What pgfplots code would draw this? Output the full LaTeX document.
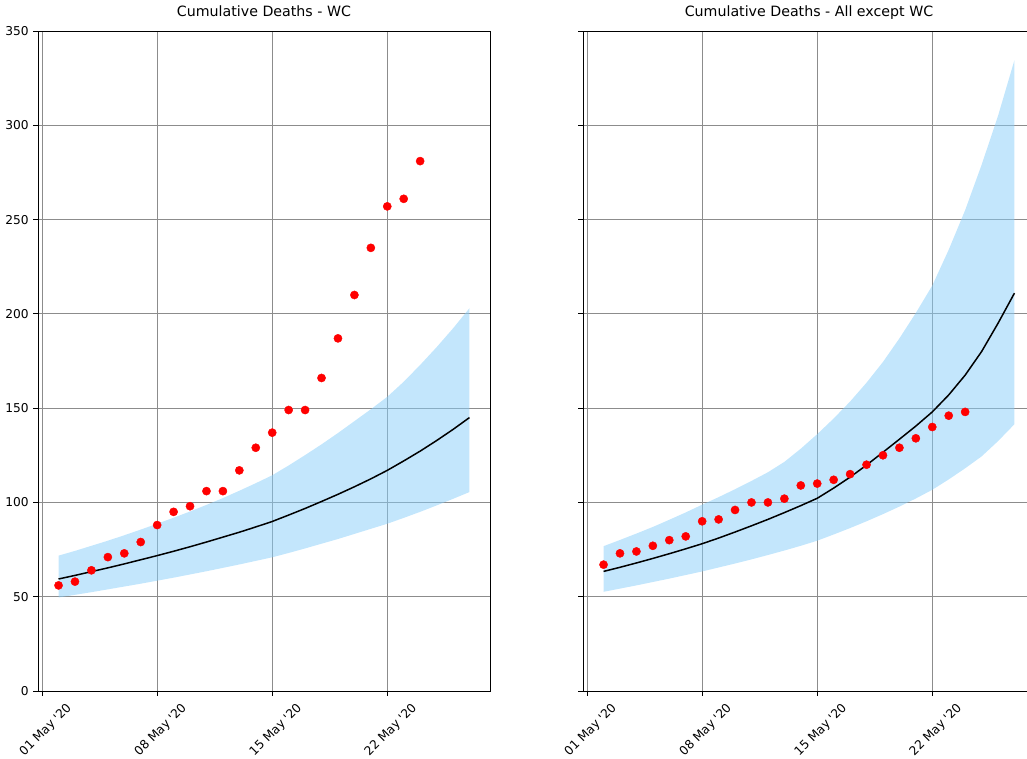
\documentclass[border=0pt]{standalone}
\usepackage{fontspec}
\setmainfont{DejaVu Sans}
\usepackage{pgfplots}
\pgfplotsset{compat=1.18}
\usepackage{pgfplotstable}
\usepgfplotslibrary{fillbetween}
\definecolor{bandblue}{RGB}{135,206,250}

\pgfplotstableread{
day lo mid up
2 49.6 59.4 71.8
3 51.0 61.3 74.3
4 52.4 63.3 77.0
5 53.9 65.3 79.7
6 55.4 67.4 82.6
7 56.9 69.6 85.6
8 58.5 71.8 88.7
9 60.1 74.1 91.9
10 61.8 76.5 95.2
11 63.5 79.0 98.7
12 65.3 81.6 102.3
13 67.1 84.2 106.2
14 69.0 87.0 110.2
15 70.9 89.9 114.4
16 73.2 93.3 119.6
17 75.6 96.8 125.1
18 78.1 100.5 130.8
19 80.6 104.3 136.8
20 83.3 108.3 143.1
21 86.0 112.5 149.4
22 88.7 117.0 156.0
23 91.8 122.0 164.0
24 95.0 127.2 172.9
25 98.4 132.8 182.3
26 101.9 138.7 192.3
27 105.5 145.0 203.0
}\wcmodel

\pgfplotstableread{
day obs
2 56
3 58
4 64
5 71
6 73
7 79
8 88
9 95
10 98
11 106
12 106
13 117
14 129
15 137
16 149
17 149
18 166
19 187
20 210
21 235
22 257
23 261
24 281
}\wcobs

\pgfplotstableread{
day lo mid up
2 52.6 63.4 76.8
3 54.3 65.6 80.1
4 56.0 67.9 83.5
5 57.8 70.3 87.0
6 59.6 72.8 90.8
7 61.5 75.4 94.7
8 63.4 78.1 98.8
9 65.5 81.1 102.8
10 67.6 84.3 107.0
11 69.8 87.6 111.4
12 72.1 91.0 116.0
13 74.5 94.6 121.5
14 77.0 98.3 128.5
15 79.7 102.2 136.2
16 83.0 107.6 144.5
17 86.4 113.4 153.5
18 90.0 119.8 163.5
19 93.8 126.6 174.5
20 97.8 133.5 187.0
21 102.1 140.5 200.5
22 106.7 148.0 215.0
23 112.2 157.0 234.0
24 118.1 167.5 255.0
25 124.4 180.0 279.0
26 132.5 195.0 305.0
27 141.5 211.0 334.6
}\restmodel

\pgfplotstableread{
day obs
2 67
3 73
4 74
5 77
6 80
7 82
8 90
9 91
10 96
11 100
12 100
13 102
14 109
15 110
16 112
17 115
18 120
19 125
20 129
21 134
22 140
23 146
24 148
}\restobs

\pgfplotsset{
  panel/.style={
    scale only axis,
    width=452pt, height=660pt,
    xmin=0.75, xmax=28.25,
    ymin=0, ymax=350,
    xtick={1,8,15,22},
    xticklabels={01 May \textquotesingle20, 08 May \textquotesingle20, 15 May \textquotesingle20, 22 May \textquotesingle20},
    ytick={0,50,...,350},
    tick pos=left,
    tick align=outside,
    major tick length=4.9pt,
    tick style={black, line width=0.8pt},
    axis line style={black, line width=0.8pt},
    grid=major,
    grid style={black!45, line width=0.8pt},
    /pgf/number format/assume math mode=true,
    ticklabel style={font=\fontsize{12.2}{13.5}\selectfont},
    yticklabel style={xshift=-1pt},
    xticklabel style={xshift=22pt, rotate=45, anchor=north east, yshift=-2pt},
    title style={font=\fontsize{14.2}{16}\selectfont, at={(0.5,1)}, anchor=base, yshift=8pt},
  },
}

\begin{document}
\begin{tikzpicture}
\begin{axis}[panel, at={(0pt,0pt)}, anchor=south west,
  title={Cumulative Deaths - WC}]
  \addplot[draw=none, name path=up, forget plot] table[x=day, y=up] {\wcmodel};
  \addplot[draw=none, name path=lo, forget plot] table[x=day, y=lo] {\wcmodel};
  \addplot[bandblue, fill opacity=0.5, draw opacity=0.3] fill between[of=up and lo];
  \addplot[black, line width=1.5pt] table[x=day, y=mid] {\wcmodel};
  \addplot[only marks, mark=*, mark size=4.1pt, red, mark options={fill=red, draw=red}] table[x=day, y=obs] {\wcobs};
\end{axis}
\begin{axis}[panel, at={(545pt,0pt)}, anchor=south west,
  yticklabels={},
  title={Cumulative Deaths - All except WC}]
  \addplot[draw=none, name path=up, forget plot] table[x=day, y=up] {\restmodel};
  \addplot[draw=none, name path=lo, forget plot] table[x=day, y=lo] {\restmodel};
  \addplot[bandblue, fill opacity=0.5, draw opacity=0.3] fill between[of=up and lo];
  \addplot[black, line width=1.5pt] table[x=day, y=mid] {\restmodel};
  \addplot[only marks, mark=*, mark size=4.1pt, red, mark options={fill=red, draw=red}] table[x=day, y=obs] {\restobs};
\end{axis}
\pgfresetboundingbox
\path[use as bounding box] (-38pt,-67pt) rectangle (989pt,691pt);
\end{tikzpicture}
\end{document}
